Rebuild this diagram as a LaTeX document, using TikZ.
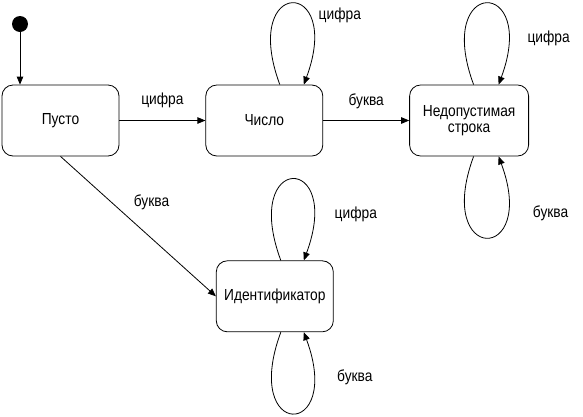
\documentclass[tikz,border=0pt]{standalone}
\usepackage{fontspec}
\setmainfont{Liberation Sans}[FakeStretch=0.86]
\usetikzlibrary{positioning,arrows.meta}
\tikzset{
  state/.style={draw, rectangle, rounded corners=11pt, minimum width=117pt, minimum height=71pt,
    align=center, line width=0.8pt, font=\fontsize{16}{16}\selectfont},
  init/.style={circle, fill=black, inner sep=0pt, minimum size=16pt},
  trans/.style={-{Triangle[length=8pt,width=6.5pt]}, line width=0.8pt},
  lbl/.style={inner sep=0pt, font=\fontsize{16}{16}\selectfont}
}

\begin{document}
\begin{tikzpicture}[x=1pt, y=-1pt]
  \useasboundingbox (0,0) rectangle (583,416);
  % Define nodes
  \node[state]                       (empty)   at (60.5,120.5) {Пусто};
  \node[state, right=86pt of empty]  (number)  {Число};
  \node[state, right=86pt of number, minimum width=119pt] (invalid) {Недопустимая\\строка};
  \node[state, below=104pt of number, xshift=10.5pt] (ident) {Идентификатор};
  \node[init]                        (start)   at (20,24) {};

  % Connect the nodes
  \draw[trans] (start) -- (start |- empty.north);
  \draw[trans] (empty) -- node[lbl, yshift=20pt] {цифра} (number);
  \draw[trans] (number) -- node[lbl, yshift=19pt] {буква} (invalid);
  \draw[trans] (empty.south) -- node[lbl, pos=0.47, xshift=18pt, yshift=20pt] {буква} (ident.west);

  % Loops
  \draw[trans] ([xshift=15.5pt]number.north) .. controls +(-40,-108) and +(40,-108) .. ([xshift=39.5pt]number.north)
    node[lbl, pos=0.5, xshift=48pt, yshift=-12pt] {цифра};
  \draw[trans] ([xshift=4.5pt]invalid.north) .. controls +(-40,-108) and +(40,-108) .. ([xshift=29.5pt]invalid.north)
    node[lbl, pos=0.5, xshift=62.5pt, yshift=-35pt] {цифра};
  \draw[trans] ([xshift=4.5pt]invalid.south) .. controls +(-40,108) and +(40,108) .. ([xshift=29.5pt]invalid.south)
    node[lbl, pos=0.5, xshift=64.5pt, yshift=24pt] {буква};
  \draw[trans] ([xshift=6pt]ident.north) .. controls +(-40,-108) and +(40,-108) .. ([xshift=29pt]ident.north)
    node[lbl, pos=0.5, xshift=63.5pt, yshift=-35pt] {цифра};
  \draw[trans] ([xshift=6pt]ident.south) .. controls +(-40,108) and +(40,108) .. ([xshift=29pt]ident.south)
    node[lbl, pos=0.5, xshift=62.5pt, yshift=36pt] {буква};
\end{tikzpicture}
\end{document}
